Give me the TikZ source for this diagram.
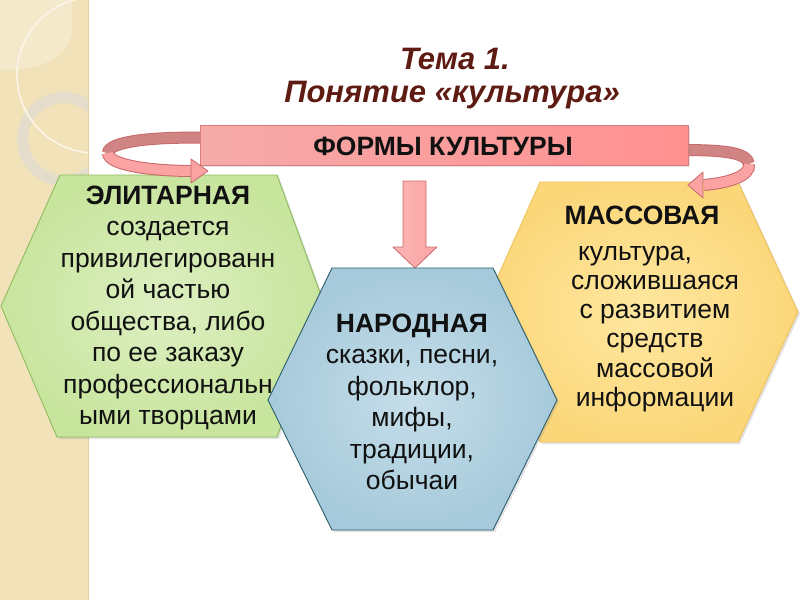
\documentclass[tikz,border=0pt]{standalone}
\usepackage{fontspec}
\setmainfont{Liberation Sans}
\usetikzlibrary{shadows}
\definecolor{stripc}{HTML}{F2E2BA}
\definecolor{stripl}{HTML}{F5E9CB}
\definecolor{stripedge}{HTML}{E2D2A6}
\definecolor{ringc}{HTML}{E4DDCE}
\definecolor{titlec}{HTML}{5E1B12}
\definecolor{bannerL}{HTML}{F6AAAA}
\definecolor{bannerR}{HTML}{FF9090}
\definecolor{banneredge}{HTML}{D67C7C}
\definecolor{arrowback}{HTML}{D08484}
\definecolor{arrowfront}{HTML}{FBA3A3}
\definecolor{arrowedge}{HTML}{C96A6A}
\definecolor{greenin}{HTML}{DDEFC2}
\definecolor{greenout}{HTML}{C8E59E}
\definecolor{greenedge}{HTML}{8EBB5E}
\definecolor{bluein}{HTML}{C6DEE9}
\definecolor{blueout}{HTML}{A6CADB}
\definecolor{blueedge}{HTML}{2C5E6C}
\definecolor{yellowin}{HTML}{FFE7A0}
\definecolor{yellowout}{HTML}{FBD77A}
\definecolor{yellowedge}{HTML}{EEC25C}
\definecolor{textc}{HTML}{111111}
\tikzset{
  bodytext/.style={font=\fontsize{26.5}{31.5}\selectfont, align=center, text=textc, inner sep=0pt},
  titletext/.style={font=\fontsize{31}{32}\selectfont\bfseries\itshape, text=titlec, inner sep=0pt},
  hexshadow/.style={drop shadow={opacity=0.22, shadow xshift=2pt, shadow yshift=-2pt}},
  bandedge/.style={line width=12pt, draw=arrowedge},
  bandback/.style={line width=10pt, draw=arrowback},
  bandfront/.style={line width=10pt, draw=arrowfront},
  headshape/.style={fill=arrowfront, draw=arrowedge, line width=0.8pt, line join=round}
}
\begin{document}
\begin{tikzpicture}[x=1pt,y=-1pt]
\useasboundingbox (0,0) rectangle (800,600);
\fill[white] (0,0) rectangle (800,600);
% left decorative strip
\begin{scope}
  \clip (0,0) rectangle (88,600);
  \fill[stripc] (0,0) rectangle (88,600);
  \fill[stripl] (0,0) -- (72,0) -- (72,35) .. controls (62,60) and (40,68) .. (15,70) -- (0,70) -- cycle;
  \fill[ringc, even odd rule, opacity=0.9] (64,139) circle (47pt) (64,139) circle (36pt);
  \draw[white!70!stripc, line width=1.5pt] (95,75) circle (78pt);
\end{scope}
\draw[stripedge, line width=0.8pt] (88,0) -- (88,600);

% back parts of the curved arrows
\draw[bandedge] (215,138) .. controls (150,136) and (108,142) .. (108,153);
\draw[bandback] (215,138) .. controls (150,136) and (108,142) .. (108,153);
\draw[bandedge] (680,150) .. controls (722,150) and (747,152) .. (749,164);
\draw[bandback] (680,150) .. controls (722,150) and (747,152) .. (749,164);

% banner
\path[draw=banneredge, line width=0.8pt, left color=bannerL, right color=bannerR,
  drop shadow={opacity=0.2, shadow xshift=1.5pt, shadow yshift=-1.5pt}] (200,125) rectangle (688,165);
\node[font=\fontsize{26.5}{28}\selectfont\bfseries, text=textc, inner sep=0pt] (banner) at (443,146) {ФОРМЫ КУЛЬТУРЫ};

% centre arrow
\path[draw=arrowedge, line width=0.8pt, left color=arrowfront!80!white, right color=arrowfront, line join=round]
  (403,181) -- (426,181) -- (426,247) -- (437,247) -- (415,268) -- (393,247) -- (403,247) -- cycle;

% hexagons
\path[hexshadow, draw=greenedge, line width=0.9pt, inner color=greenin, outer color=greenout]
  (60,175) -- (277,175) -- (325,306) -- (277,437) -- (57,437) -- (1,306) -- cycle;
\path[hexshadow, draw=yellowedge, line width=0.9pt, inner color=yellowin, outer color=yellowout]
  (540,182) -- (738,182) -- (798,312) -- (738,442) -- (540,442) -- (482,312) -- cycle;
\path[hexshadow, draw=blueedge, line width=0.9pt, inner color=bluein, outer color=blueout]
  (332,268) -- (493,268) -- (557,400) -- (493,530) -- (332,530) -- (268,400) -- cycle;

% front parts of the curved arrows
\draw[bandedge] (108,153) .. controls (108,165) and (150,171) .. (193,171);
\draw[bandfront] (108,153) .. controls (108,165) and (150,171) .. (193,171);
\draw[headshape] (191,159) -- (208,171) -- (191,183) -- cycle;
\draw[bandedge] (749,164) .. controls (751,176) and (728,183) .. (704,185);
\draw[bandfront] (749,164) .. controls (751,176) and (728,183) .. (704,185);
\draw[headshape] (703,172) -- (688,185) -- (703,198) -- cycle;

% title
\node[titletext] (t1) at (455,58.5) {Тема 1.};
\node[titletext] (t2) at (452,95) {Понятие «культура»};

% texts
\node[bodytext] (elite) at (168,308) {\textbf{ЭЛИТАРНАЯ}\\создается\\привилегированн\\ой частью\\общества, либо\\по ее заказу\\профессиональн\\ыми творцами};
\node[bodytext] (folk) at (412,402) {\textbf{НАРОДНАЯ}\\сказки, песни,\\фольклор,\\мифы,\\традиции,\\обычаи};
\node[bodytext] (massh) at (642,215) {\textbf{МАССОВАЯ}};
\node[bodytext, font=\fontsize{26.5}{29.2}\selectfont] (mass) at (655,329) {культура,\hspace*{40pt}\\сложившаяся\\с развитием\\средств\\массовой\\информации};
\end{tikzpicture}
\end{document}
